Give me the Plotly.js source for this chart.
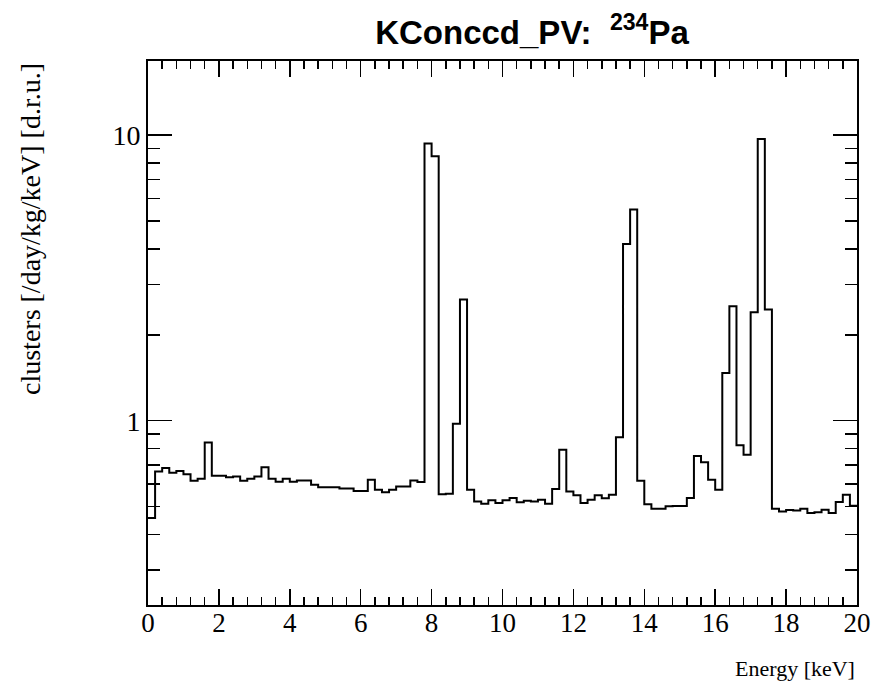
<!DOCTYPE html>
<html>
<head>
<meta charset="utf-8">
<script src="https://cdn.plot.ly/plotly-3.0.1.min.js"></script>
<style>html,body{margin:0;padding:0;background:#fff;}#plot{width:877px;height:692px;}</style>
</head>
<body>
<div id="plot"></div>
<script>
// Histogram: 100 bins of 0.2 keV from 0 to 20 keV
const binWidth = 0.2;
const binStart = 0;
const counts = [
  0.456, 0.664, 0.683, 0.657, 0.666, 0.650, 0.616, 0.626, 0.839, 0.642,
  0.642, 0.634, 0.638, 0.616, 0.626, 0.638, 0.687, 0.626, 0.611, 0.626,
  0.611, 0.617, 0.617, 0.597, 0.585, 0.585, 0.585, 0.579, 0.579, 0.567,
  0.567, 0.621, 0.573, 0.562, 0.573, 0.588, 0.588, 0.617, 0.610, 9.35,
  8.44, 0.553, 0.555, 0.976, 2.66, 0.573, 0.521, 0.512, 0.526, 0.515,
  0.526, 0.536, 0.518, 0.524, 0.521, 0.529, 0.512, 0.576, 0.791, 0.565,
  0.548, 0.515, 0.529, 0.548, 0.535, 0.550, 0.876, 4.16, 5.49, 0.616,
  0.510, 0.492, 0.492, 0.502, 0.503, 0.503, 0.536, 0.752, 0.716, 0.621,
  0.573, 1.47, 2.52, 0.82, 0.76, 2.40, 9.71, 2.45, 0.492, 0.481,
  0.487, 0.485, 0.492, 0.475, 0.478, 0.488, 0.475, 0.519, 0.550, 0.504
];
const xTickVals = [0, 2, 4, 6, 8, 10, 12, 14, 16, 18, 20];
const yTickVals = [1, 10];
const yTickText = ['1', '10'];
const yMinorVals = [0.3, 0.4, 0.5, 0.6, 0.7, 0.8, 0.9, 2, 3, 4, 5, 6, 7, 8, 9];
const titleText = '<b>KConccd_PV:  <sup>234</sup>Pa</b>';
const xTitle = 'Energy [keV]';
const yTitle = 'clusters [/day/kg/keV] [d.r.u.]';

// step edges
const xs = [], ys = [];
for (let i = 0; i < counts.length; i++) { xs.push(binStart + i * binWidth); ys.push(counts[i]); }
xs.push(binStart + counts.length * binWidth); ys.push(counts[counts.length - 1]);

const serif = 'Liberation Serif, Times New Roman, serif';
const trace = {
  x: xs, y: ys, type: 'scatter', mode: 'lines',
  line: {shape: 'hv', color: '#000', width: 2},
  hoverinfo: 'skip', showlegend: false
};

const W = 877, H = 692, L = 148, R = 20, T = 61, B = 87;
const pw = W - L - R, ph = H - T - B;

const layout = {
  width: W, height: H,
  margin: {l: L, r: R, t: T, b: B, pad: 0},
  paper_bgcolor: '#fff', plot_bgcolor: '#fff',
  showlegend: false,
  title: {text: titleText, font: {family: 'Liberation Sans, Arial, sans-serif', size: 33, color: '#000'},
          x: 532 / W, xref: 'container', xanchor: 'center', y: 1 - 32 / H, yref: 'container', yanchor: 'middle'},
  xaxis: {
    range: [0, 20], tickmode: 'array', tickvals: xTickVals,
    ticks: 'inside', ticklen: 16, tickwidth: 1.5, tickcolor: '#000',
    showline: true, linecolor: '#000', linewidth: 2, mirror: 'allticks',
    showgrid: false, zeroline: false, ticklabelstandoff: -7,
    tickfont: {family: serif, size: 27, color: '#000'},
    minor: {dtick: 0.4, tick0: 0, ticks: 'inside', ticklen: 8, tickwidth: 1.5, tickcolor: '#000', showgrid: false}
  },
  yaxis: {
    type: 'log', range: [Math.log10(0.2262), Math.log10(18.2)],
    tickmode: 'array', tickvals: yTickVals, ticktext: yTickText,
    ticks: 'inside', ticklen: 24, tickwidth: 1.5, tickcolor: '#000',
    showline: true, linecolor: '#000', linewidth: 2, mirror: 'allticks',
    showgrid: false, zeroline: false, ticklabelstandoff: 0,
    tickfont: {family: serif, size: 28, color: '#000'},
    minor: {tickmode: 'array', tickvals: yMinorVals, ticks: 'inside', ticklen: 12, tickwidth: 1.5, tickcolor: '#000', showgrid: false}
  },
  annotations: [
    {text: xTitle, xref: 'paper', yref: 'paper', x: 1, y: -(668 - (T + ph)) / ph,
     xanchor: 'right', yanchor: 'middle', showarrow: false,
     font: {family: serif, size: 22, color: '#000'}},
    {text: yTitle, xref: 'paper', yref: 'paper', x: (30 - L) / pw, y: 1,
     xanchor: 'center', yanchor: 'top', textangle: -90, showarrow: false,
     font: {family: serif, size: 28, color: '#000'}}
  ]
};

Plotly.newPlot('plot', [trace], layout, {staticPlot: true, displayModeBar: false});
</script>
</body>
</html>
